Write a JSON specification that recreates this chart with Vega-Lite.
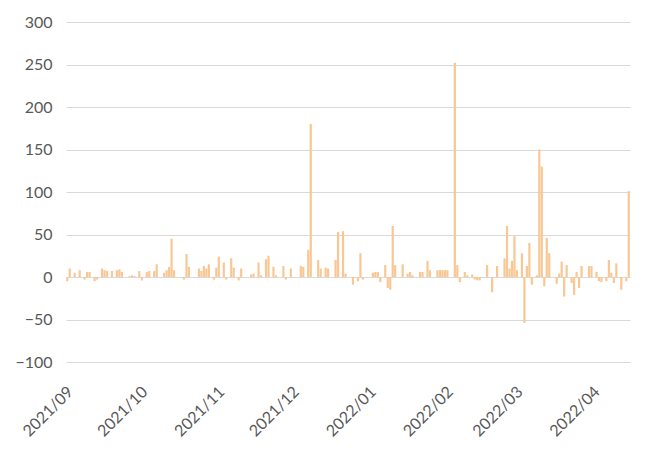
{
  "$schema": "https://vega.github.io/schema/vega-lite/v6.json",
  "autosize": "none",
  "width": 564,
  "height": 340,
  "padding": {"left": 66, "top": 22, "right": 38, "bottom": 88},
  "background": "white",
  "config": {"view": {"stroke": null}, "font": "Lato"},
  "data": {"values": [
    {"date": "2021/09/01", "v": -5}, {"date": "2021/09/02", "v": 10}, {"date": "2021/09/04", "v": 5}, {"date": "2021/09/06", "v": 8},
    {"date": "2021/09/08", "v": -3}, {"date": "2021/09/09", "v": 6}, {"date": "2021/09/10", "v": 6}, {"date": "2021/09/12", "v": -5},
    {"date": "2021/09/13", "v": -3}, {"date": "2021/09/15", "v": 10}, {"date": "2021/09/16", "v": 8}, {"date": "2021/09/17", "v": 7},
    {"date": "2021/09/19", "v": 7}, {"date": "2021/09/21", "v": 8}, {"date": "2021/09/22", "v": 9}, {"date": "2021/09/23", "v": 6},
    {"date": "2021/09/26", "v": 1}, {"date": "2021/09/27", "v": 2}, {"date": "2021/09/28", "v": 1}, {"date": "2021/09/30", "v": 7},
    {"date": "2021/10/01", "v": -4}, {"date": "2021/10/03", "v": 6}, {"date": "2021/10/04", "v": 7}, {"date": "2021/10/06", "v": 7},
    {"date": "2021/10/07", "v": 15}, {"date": "2021/10/10", "v": 5}, {"date": "2021/10/11", "v": 8}, {"date": "2021/10/12", "v": 12},
    {"date": "2021/10/13", "v": 45}, {"date": "2021/10/14", "v": 8}, {"date": "2021/10/18", "v": -3}, {"date": "2021/10/19", "v": 27},
    {"date": "2021/10/20", "v": 12}, {"date": "2021/10/24", "v": 10}, {"date": "2021/10/25", "v": 7}, {"date": "2021/10/26", "v": 13},
    {"date": "2021/10/27", "v": 10}, {"date": "2021/10/28", "v": 15}, {"date": "2021/10/30", "v": -3}, {"date": "2021/10/31", "v": 11},
    {"date": "2021/11/01", "v": 24}, {"date": "2021/11/03", "v": 17}, {"date": "2021/11/04", "v": -3}, {"date": "2021/11/06", "v": 22},
    {"date": "2021/11/07", "v": 11}, {"date": "2021/11/09", "v": -4}, {"date": "2021/11/10", "v": 10}, {"date": "2021/11/14", "v": 3},
    {"date": "2021/11/15", "v": 4}, {"date": "2021/11/17", "v": 17}, {"date": "2021/11/18", "v": 2}, {"date": "2021/11/20", "v": 21},
    {"date": "2021/11/21", "v": 25}, {"date": "2021/11/23", "v": 12}, {"date": "2021/11/24", "v": 2}, {"date": "2021/11/27", "v": 13},
    {"date": "2021/11/28", "v": -3}, {"date": "2021/11/30", "v": 10}, {"date": "2021/12/04", "v": 13}, {"date": "2021/12/05", "v": 12},
    {"date": "2021/12/07", "v": 32}, {"date": "2021/12/08", "v": 180}, {"date": "2021/12/11", "v": 20}, {"date": "2021/12/12", "v": 10},
    {"date": "2021/12/14", "v": 11}, {"date": "2021/12/15", "v": 10}, {"date": "2021/12/18", "v": 20}, {"date": "2021/12/19", "v": 53},
    {"date": "2021/12/21", "v": 54}, {"date": "2021/12/22", "v": 4}, {"date": "2021/12/25", "v": -9}, {"date": "2021/12/27", "v": -5},
    {"date": "2021/12/28", "v": 28}, {"date": "2021/12/29", "v": -3}, {"date": "2022/01/02", "v": 5}, {"date": "2022/01/03", "v": 6},
    {"date": "2022/01/04", "v": 6}, {"date": "2022/01/05", "v": -6}, {"date": "2022/01/07", "v": 14}, {"date": "2022/01/08", "v": -13},
    {"date": "2022/01/09", "v": -15}, {"date": "2022/01/10", "v": 60}, {"date": "2022/01/11", "v": 14}, {"date": "2022/01/14", "v": 15},
    {"date": "2022/01/16", "v": 4}, {"date": "2022/01/17", "v": 6}, {"date": "2022/01/18", "v": 2}, {"date": "2022/01/21", "v": 6},
    {"date": "2022/01/22", "v": 6}, {"date": "2022/01/24", "v": 19}, {"date": "2022/01/25", "v": 8}, {"date": "2022/01/28", "v": 8},
    {"date": "2022/01/29", "v": 8}, {"date": "2022/01/30", "v": 8}, {"date": "2022/01/31", "v": 8}, {"date": "2022/02/01", "v": 8},
    {"date": "2022/02/04", "v": 252}, {"date": "2022/02/05", "v": 14}, {"date": "2022/02/06", "v": -6}, {"date": "2022/02/08", "v": 6},
    {"date": "2022/02/09", "v": 2}, {"date": "2022/02/11", "v": 3}, {"date": "2022/02/12", "v": -3}, {"date": "2022/02/13", "v": -4},
    {"date": "2022/02/14", "v": -4}, {"date": "2022/02/17", "v": 14}, {"date": "2022/02/19", "v": -18}, {"date": "2022/02/21", "v": 13},
    {"date": "2022/02/24", "v": 22}, {"date": "2022/02/25", "v": 60}, {"date": "2022/02/26", "v": 10}, {"date": "2022/02/27", "v": 19},
    {"date": "2022/02/28", "v": 48}, {"date": "2022/03/01", "v": 8}, {"date": "2022/03/03", "v": 28}, {"date": "2022/03/04", "v": -54},
    {"date": "2022/03/05", "v": 13}, {"date": "2022/03/06", "v": 40}, {"date": "2022/03/07", "v": -9}, {"date": "2022/03/09", "v": 2},
    {"date": "2022/03/10", "v": 150}, {"date": "2022/03/11", "v": 130}, {"date": "2022/03/12", "v": -11}, {"date": "2022/03/13", "v": 46},
    {"date": "2022/03/14", "v": 28}, {"date": "2022/03/17", "v": -8}, {"date": "2022/03/18", "v": 4}, {"date": "2022/03/19", "v": 18},
    {"date": "2022/03/20", "v": -23}, {"date": "2022/03/21", "v": 14}, {"date": "2022/03/23", "v": -7}, {"date": "2022/03/24", "v": -21},
    {"date": "2022/03/25", "v": 6}, {"date": "2022/03/26", "v": -13}, {"date": "2022/03/27", "v": 13}, {"date": "2022/03/30", "v": 13},
    {"date": "2022/03/31", "v": 13}, {"date": "2022/04/02", "v": 6}, {"date": "2022/04/03", "v": -5}, {"date": "2022/04/04", "v": -6},
    {"date": "2022/04/06", "v": -5}, {"date": "2022/04/07", "v": 20}, {"date": "2022/04/08", "v": 5}, {"date": "2022/04/09", "v": -7},
    {"date": "2022/04/10", "v": 16}, {"date": "2022/04/12", "v": -15}, {"date": "2022/04/14", "v": -5}, {"date": "2022/04/15", "v": 101}
  ]},
  "mark": {"type": "bar", "color": "#F8C794", "width": 2.2},
  "encoding": {
    "x": {
      "field": "date", "type": "temporal", "timeUnit": "yearmonthdate", "bandPosition": 0.5,
      "scale": {"domain": [{"year": 2021, "month": 9, "date": 1}, {"year": 2022, "month": 4, "date": 16}], "nice": false},
      "axis": {
        "title": null, "grid": false, "domain": false, "ticks": false,
        "tickCount": {"interval": "month", "step": 1},
        "format": "%Y/%m", "labelAngle": -45, "labelAlign": "right", "labelBaseline": "middle",
        "labelPadding": 27, "labelOffset": 4, "labelFontSize": 16, "labelColor": "#595959",
        "labelOverlap": false, "labelFlush": false
      }
    },
    "y": {
      "field": "v", "type": "quantitative",
      "scale": {"domain": [-100, 300], "nice": false},
      "axis": {
        "title": null, "values": [-100, -50, 0, 50, 100, 150, 200, 250, 300],
        "domain": false, "ticks": false, "gridColor": "#D9D9D9", "gridWidth": 1,
        "labelPadding": 14, "labelFontSize": 16, "labelColor": "#595959"
      }
    }
  }
}
